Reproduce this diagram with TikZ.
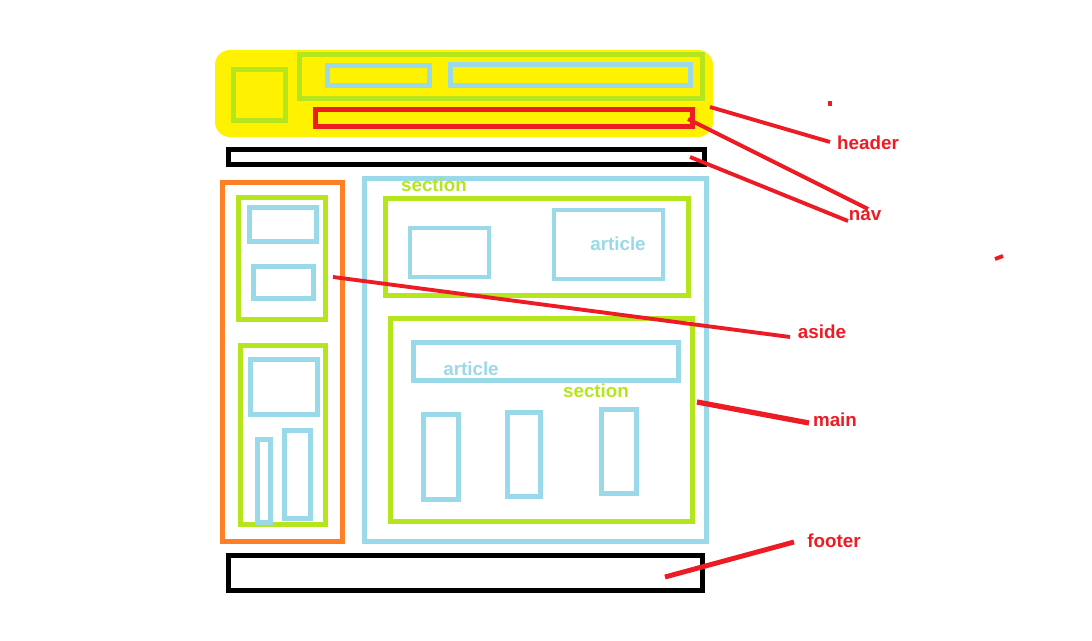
\documentclass[tikz,border=0pt]{standalone}
\usepackage{fontspec}
\setmainfont{Liberation Sans}
\definecolor{paintyellow}{RGB}{255,242,0}
\definecolor{paintgreen}{RGB}{181,230,29}
\definecolor{paintblue}{RGB}{153,217,234}
\definecolor{paintred}{RGB}{237,28,36}
\definecolor{paintorange}{RGB}{255,127,39}
\begin{document}
\begin{tikzpicture}[
    x=0.02cm, y=-0.02cm,
    every node/.style={inner sep=0pt, font=\fontsize{10.7}{12}\selectfont\bfseries},
    greenbox/.style={draw=paintgreen, line width=2.83pt},
    bluebox/.style={draw=paintblue, line width=2.83pt},
    thinblue/.style={draw=paintblue, line width=2.3pt},
    blackbox/.style={draw=black, line width=2.83pt},
    leader/.style={draw=paintred, line width=2.2pt},
    tag/.style={text=paintred},
    ]
\useasboundingbox (0,0) rectangle (1092,641);
% header
\fill[paintyellow, rounded corners=0.3cm] (215,50) rectangle (713,137);
\draw[greenbox] (233.5,69.5) rectangle (285.5,120.5);
\draw[greenbox] (299.5,54.5) rectangle (702.5,98.5);
\draw[bluebox] (327.5,65.5) rectangle (429.5,85.5);
\draw[bluebox] (450.5,64.5) rectangle (690.5,85.5);
\draw[draw=paintred, line width=2.83pt] (315.5,109.5) rectangle (692.5,126.5);
% nav bar
\draw[blackbox] (228.5,149.5) rectangle (704.5,164.5);
% aside
\draw[draw=paintorange, line width=2.83pt] (222.5,182.5) rectangle (342.5,541.5);
\draw[greenbox] (238.5,197.5) rectangle (325.5,319.5);
\draw[bluebox] (249.5,207.5) rectangle (316.5,241.5);
\draw[bluebox] (253.5,266.5) rectangle (313.5,298.5);
\draw[greenbox] (240.5,345.5) rectangle (325.5,524.5);
\draw[bluebox] (250.5,359.5) rectangle (317.5,414.5);
\draw[bluebox] (257.5,439.5) rectangle (270.5,522.5);
\draw[bluebox] (284.5,430.5) rectangle (310.5,518.5);
% main
\draw[bluebox] (364.5,178.5) rectangle (706.5,541.5);
\node[text=paintgreen] (section1) at (434,185) {section};
\draw[greenbox] (385.5,198.5) rectangle (688.5,295.5);
\draw[thinblue] (410,228) rectangle (489,277);
\draw[thinblue] (554,210) rectangle (663,279);
\node[text=paintblue] (article1) at (618,244) {article};
\draw[greenbox] (390.5,318.5) rectangle (692.5,521.5);
\draw[bluebox] (413.5,342.5) rectangle (678.5,380.5);
\node[text=paintblue] (article2) at (471,369) {article};
\node[text=paintgreen] (section2) at (596,391) {section};
\draw[bluebox] (423.5,414.5) rectangle (458.5,499.5);
\draw[bluebox] (507.5,412.5) rectangle (540.5,496.5);
\draw[bluebox] (601.5,409.5) rectangle (636.5,493.5);
% footer
\draw[blackbox] (228.5,555.5) rectangle (702.5,590.5);
% labels
\node[tag] (header) at (868,143) {header};
\node[tag] (nav) at (865,216) {nav};
\node[tag] (aside) at (822,332) {aside};
\node[tag] (main) at (835,420) {main};
\node[tag] (footer) at (834,541) {footer};
\coordinate (headerA) at (710,107);
\coordinate (headerB) at (830,142);
\coordinate (navA) at (688,119);
\coordinate (navB) at (868,209);
\coordinate (navC) at (690,157);
\coordinate (navD) at (848,221);
\coordinate (asideA) at (333,277);
\coordinate (asideB) at (790,337);
\coordinate (mainA) at (697,402);
\coordinate (mainB) at (809,423);
\coordinate (footerA) at (665,577);
\coordinate (footerB) at (794,542);
\draw[leader] (headerA) -- (headerB);
\draw[leader] (navA) -- (navB);
\draw[leader] (navC) -- (navD);
\draw[leader] (asideA) -- (asideB);
\draw[leader, line width=3pt] (mainA) -- (mainB);
\draw[leader, line width=2.8pt] (footerA) -- (footerB);
% stray marks
\draw[leader] (830,101) -- (830,106);
\draw[leader] (995,259) -- (1003,256);
\end{tikzpicture}
\end{document}
